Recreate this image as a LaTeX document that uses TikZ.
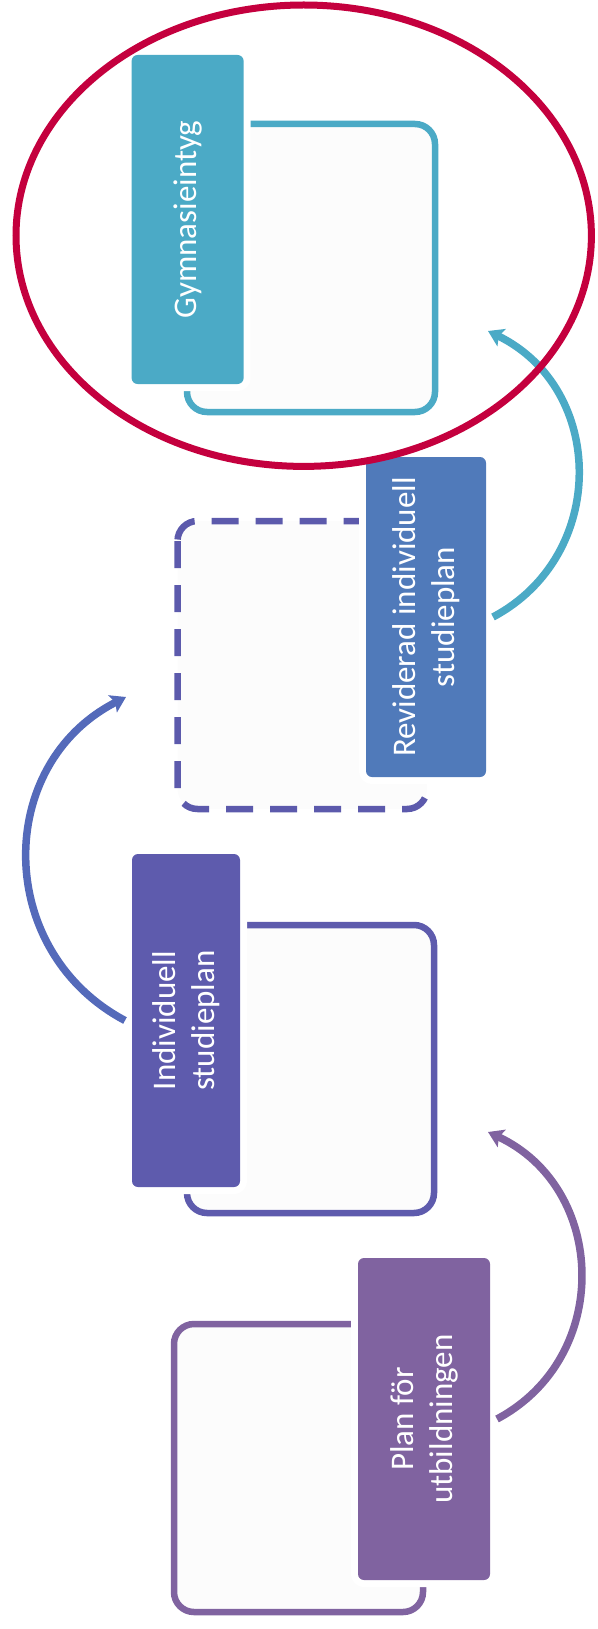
\documentclass[tikz,border=0pt]{standalone}
\usepackage{fontspec}
\setmainfont{Carlito}
\usetikzlibrary{arrows.meta}
\definecolor{gymcol}{RGB}{75,170,198}
\definecolor{revcol}{RGB}{80,122,186}
\definecolor{indcol}{RGB}{94,91,173}
\definecolor{dashcol}{RGB}{92,90,172}
\definecolor{plancol}{RGB}{128,99,160}
\definecolor{bluearr}{RGB}{84,106,186}
\definecolor{ringcol}{RGB}{196,0,62}
\definecolor{paper}{RGB}{252,252,252}

\begin{document}
\begin{tikzpicture}[x=1pt,y=1pt,
		stagebox/.style={rounded corners=6pt, rotate=90, align=center, text=white,
			font=\fontsize{33}{39}\selectfont, inner sep=0pt, outer sep=7pt,
			preaction={draw=white, line width=14pt}},
		stageframe/.style={line width=6.5pt, rounded corners=20pt, fill=paper},
		flowarrow/.style={line width=7.5pt, looseness=1.17,
			-{Stealth[length=15pt,width=19pt,inset=3pt]}}]
		\useasboundingbox (0,0) rectangle (597,-1629);

		% frames behind the labels
		\draw[stageframe, draw=gymcol] (187,-124) rectangle (435,-412);
		\draw[stageframe, draw=dashcol, dash pattern=on 27pt off 17pt] (177.5,-521) rectangle (427,-809);
		\draw[stageframe, draw=indcol] (187,-925) rectangle (434,-1213);
		\draw[stageframe, draw=plancol] (174,-1324) rectangle (423,-1612);

		% labels (rotated: south is the right side, north the left side)
		\node[stagebox, fill=gymcol, minimum width=329pt, minimum height=112pt] (gym) at (187.6,-219.5) {Gymnasieintyg};
		\node[stagebox, fill=revcol, minimum width=320pt, minimum height=120pt] (rev) at (426,-617) {Reviderad individuell\\studieplan};
		\node[stagebox, fill=indcol, minimum width=333pt, minimum height=108pt] (ind) at (186,-1020.5) {Individuell\\studieplan};
		\node[stagebox, fill=plancol, minimum width=322pt, minimum height=132pt] (plan) at (424,-1419) {Plan för\\utbildningen};

		\coordinate (toind) at (488,-1132);
		\coordinate (torev) at (126,-697);
		\coordinate (togym) at (488,-331);

		\draw[flowarrow, plancol] (plan.south) to[out=28, in=-25] (toind);
		\draw[flowarrow, bluearr] (ind.north) to[out=152, in=-153] (torev);
		\draw[flowarrow, gymcol] (rev.south) to[out=28, in=-26] (togym);

		\draw[ringcol, line width=7pt] (303.7,-235.7) ellipse [x radius=287.7, y radius=230.7];
	\end{tikzpicture}
\end{document}
